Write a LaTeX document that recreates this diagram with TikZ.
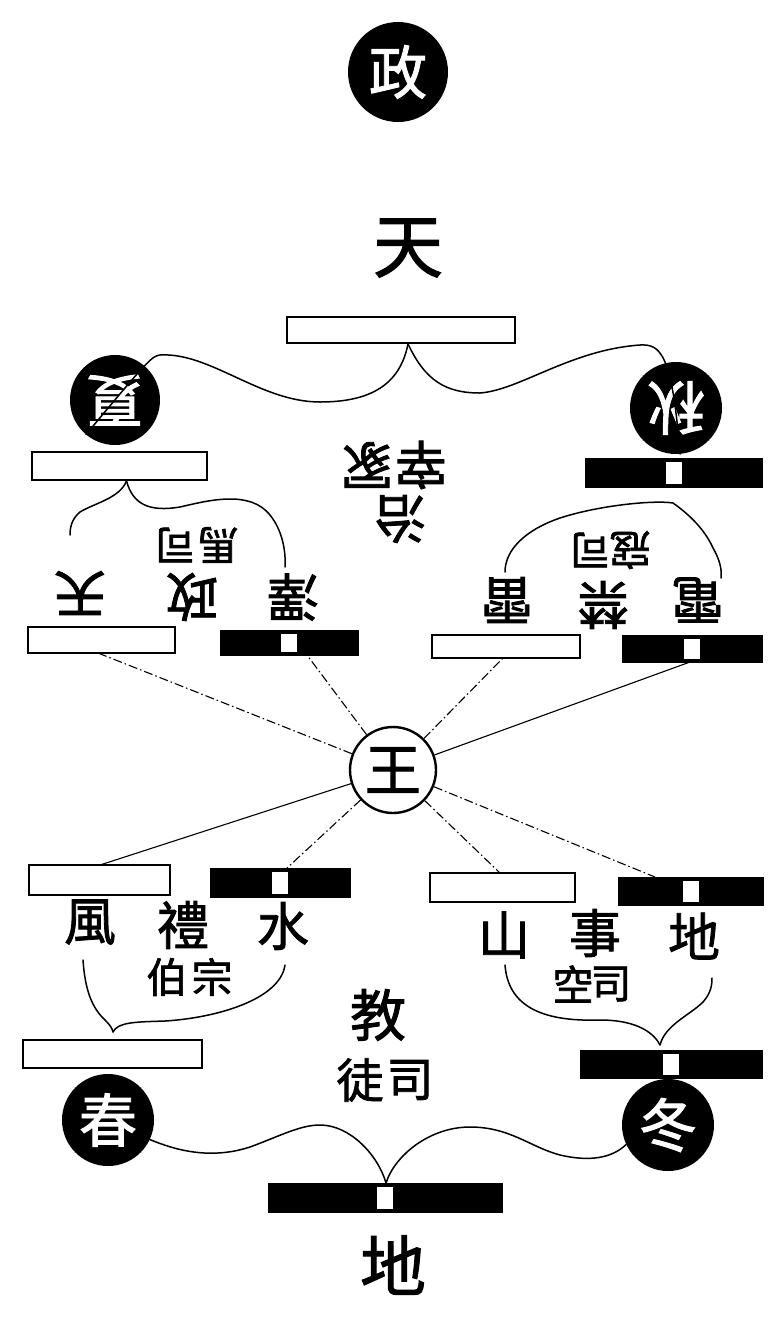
\documentclass[tikz,border=0pt]{standalone}
\usepackage{fontspec}
\newfontfamily\cjk[FakeBold=1.6]{Noto Sans CJK TC}
\begin{document}
\begin{tikzpicture}[x=1pt,y=-1pt,
  ch/.style={font=\cjk\fontsize{52}{52}\selectfont, inner sep=0pt},
  chs/.style={font=\cjk\fontsize{41}{41}\selectfont, inner sep=0pt},
  chb/.style={font=\cjk\fontsize{66}{66}\selectfont, inner sep=0pt},
  flip/.style={rotate=180},
  bcirc/.style={circle, fill=black, text=white, inner sep=0pt, font=\cjk\fontsize{58}{58}\selectfont},
  wcirc/.style={circle, draw=black, line width=2.4pt, fill=white, inner sep=0pt, font=\cjk\fontsize{56}{56}\selectfont},
  wbar/.style={draw=black, line width=1.8pt, fill=white, inner sep=0pt},
  bbar/.style={draw=black, line width=1pt, fill=black, inner sep=0pt,
    path picture={\fill[white] ([xshift=-8pt,yshift=-3.5pt]path picture bounding box.north) rectangle ([xshift=8pt,yshift=3.5pt]path picture bounding box.south);}},
  link/.style={line width=1.5pt, line cap=round},
  ray/.style={line width=1.1pt},
  rayd/.style={ray, dash pattern=on 9pt off 3pt on 1.5pt off 3pt},
]
\useasboundingbox (0,0) rectangle (776,1326);
\fill[white] (0,0) rectangle (776,1326);

% top
\node[bcirc, minimum size=100pt] (zheng) at (398,72) {政};
\node[chb, font=\cjk\fontsize{70}{70}\selectfont] (tian) at (408,248) {天};
\node[wbar, minimum width=228pt, minimum height=26pt] (topbar) at (401,330) {};

% seasons upper
\node[bcirc, minimum size=90pt, flip] (xia) at (115,400) {夏};
\node[bcirc, minimum size=92pt, flip] (qiu) at (676,408) {秋};
\node[wbar, minimum width=175pt, minimum height=28pt] (xiabar) at (119.5,466) {};
\node[bbar, minimum width=177pt, minimum height=29pt] (qiubar) at (673.5,472.5) {};

% upper bars
\node[wbar, minimum width=147pt, minimum height=26pt] (tianbar) at (101.5,640) {};
\node[bbar, minimum width=138pt, minimum height=25pt] (zebar) at (289,642.5) {};
\node[wbar, minimum width=148pt, minimum height=23pt] (leibar) at (506,646.5) {};
\node[bbar, minimum width=140pt, minimum height=27pt] (dianbar) at (692,648.5) {};

% upper texts (upside down)
\node[ch, flip] (t1) at (80,593) {天};
\node[ch, flip] (t2) at (192,597) {政};
\node[ch, flip] (t3) at (293,597) {澤};
\node[chs, flip] (t4) at (175,545) {司};
\node[chs, flip] (t5) at (218,545) {馬};
\node[ch, flip] (q1) at (507,600) {雷};
\node[ch, flip] (q2) at (603,605) {禁};
\node[ch, flip] (q3) at (698,600) {電};
\node[chs, flip] (q4) at (590,550) {司};
\node[chs, flip] (q5) at (630,550) {寇};
\node[ch, flip] (c1) at (367,465) {冢};
\node[ch, flip] (c2) at (421,465) {宰};
\node[ch, flip] (c3) at (400,519) {治};

% king
\node[wcirc, minimum size=86pt] (wang) at (393,770) {王};

% lower bars
\node[wbar, minimum width=141pt, minimum height=30pt] (fengbar) at (99.5,880) {};
\node[bbar, minimum width=140pt, minimum height=29pt] (shuibar) at (280,882.5) {};
\node[wbar, minimum width=145pt, minimum height=29pt] (shanbar) at (502.5,887.5) {};
\node[bbar, minimum width=145pt, minimum height=28pt] (dibar) at (690.5,891) {};
\node[wbar, minimum width=179pt, minimum height=28pt] (chunbar) at (112.5,1054) {};
\node[bbar, minimum width=182pt, minimum height=28pt] (dongbar) at (671,1064) {};
\node[bcirc, minimum size=92pt] (chun) at (108,1120) {春};
\node[bcirc, minimum size=92pt] (dong) at (668,1125) {冬};
\node[bbar, minimum width=234pt, minimum height=29pt] (dibar2) at (385,1197.5) {};
\node[chb] (di) at (393,1265) {地};

% lower texts
\node[ch] (l1) at (90,922) {風};
\node[ch] (l2) at (183,925) {禮};
\node[ch] (l3) at (283,926) {水};
\node[chs] (l4) at (167,977) {伯};
\node[chs] (l5) at (212,977) {宗};
\node[ch] (r1) at (504,935) {山};
\node[ch] (r2) at (595,933) {事};
\node[ch] (r3) at (694,936) {地};
\node[chs] (r4) at (573,984) {空};
\node[chs] (r5) at (611,984) {司};
\node[ch, font=\cjk\fontsize{56}{56}\selectfont] (m1) at (378,1015) {教};
\node[chs, font=\cjk\fontsize{47}{47}\selectfont] (m2) at (360,1080) {徒};
\node[chs, font=\cjk\fontsize{47}{47}\selectfont] (m3) at (410,1080) {司};

% connector coordinates
\coordinate (topcusp) at ([xshift=7pt]topbar.south);
\coordinate (xiacusp) at ([xshift=7pt]xiabar.south);
\coordinate (qiucusp) at (673,503);
\coordinate (xiaL) at (70,535);
\coordinate (xiaR) at (285,567);
\coordinate (qiuL) at (505,572);
\coordinate (qiuR) at (721,578);
\coordinate (chuncusp) at (113,1032);
\coordinate (chunL) at (83,960);
\coordinate (chunR) at (285,965);
\coordinate (dongcusp) at (660,1045);
\coordinate (dongL) at (505,965);
\coordinate (dongR) at (712,978);
\coordinate (dicusp) at (386,1183);

% top curves
\draw[link] (topcusp) .. controls (400,385) and (370,402) .. (320,402)
  .. controls (260,402) and (210,352) .. (160,355)
  .. controls (152,356) and (148,360) .. (xia.50);
\draw[link] (topcusp) .. controls (425,380) and (445,393) .. (480,393)
  .. controls (520,390) and (570,350) .. (640,345)
  .. controls (660,344) and (672,352) .. (qiu.95);
% under xia bar
\draw[link] (xiaL) .. controls (70,525) and (73,518) .. (80,512)
  .. controls (95,503) and (120,498) .. (xiacusp);
\draw[link] (xiacusp) .. controls (133,505) and (150,512) .. (180,507)
  .. controls (210,500) and (250,490) .. (270,515)
  .. controls (282,530) and (286,550) .. (xiaR);
% under qiu bar
\draw[link] (qiuL) .. controls (505,550) and (525,530) .. (560,518)
  .. controls (600,505) and (655,500) .. (qiucusp);
\draw[link] (qiucusp) .. controls (690,515) and (705,530) .. (713,548)
  .. controls (720,560) and (722,570) .. (qiuR);
% chun brace
\draw[link] (chunL) .. controls (85,990) and (92,1008) .. (105,1020)
  .. controls (110,1025) and (112,1028) .. (chuncusp);
\draw[link] (chuncusp) .. controls (118,1022) and (135,1022) .. (165,1021)
  .. controls (215,1018) and (280,1000) .. (chunR);
% dong brace
\draw[link] (dongL) .. controls (508,1005) and (540,1022) .. (600,1020)
  .. controls (640,1020) and (655,1035) .. (dongcusp);
\draw[link] (dongcusp) .. controls (665,1025) and (690,1015) .. (703,1002)
  .. controls (711,993) and (712,985) .. (dongR);
% bottom curves
\draw[link] (chun.-25) .. controls (175,1150) and (210,1160) .. (250,1147)
  .. controls (280,1136) and (300,1125) .. (320,1125)
  .. controls (350,1125) and (378,1155) .. (dicusp);
\draw[link] (dicusp) .. controls (395,1155) and (430,1127) .. (470,1127)
  .. controls (510,1127) and (530,1147) .. (560,1155)
  .. controls (590,1162) and (612,1158) .. (dong.205);

% rays from king
\coordinate (a1) at (98,653);
\coordinate (a2) at (307,655);
\coordinate (a3) at (503,658);
\coordinate (a4) at (690,662);
\coordinate (b1) at (100,865);
\coordinate (b2) at (287,868);
\coordinate (b3) at (500,873);
\coordinate (b4) at (655,877);
\draw[rayd] (wang) -- (a1);
\draw[rayd] (wang) -- (a2);
\draw[rayd] (wang) -- (a3);
\draw[ray] (wang) -- (a4);
\draw[ray] (wang) -- (b1);
\draw[rayd] (wang) -- (b2);
\draw[rayd] (wang) -- (b3);
\draw[rayd] (wang) -- (b4);
\end{tikzpicture}
\end{document}
